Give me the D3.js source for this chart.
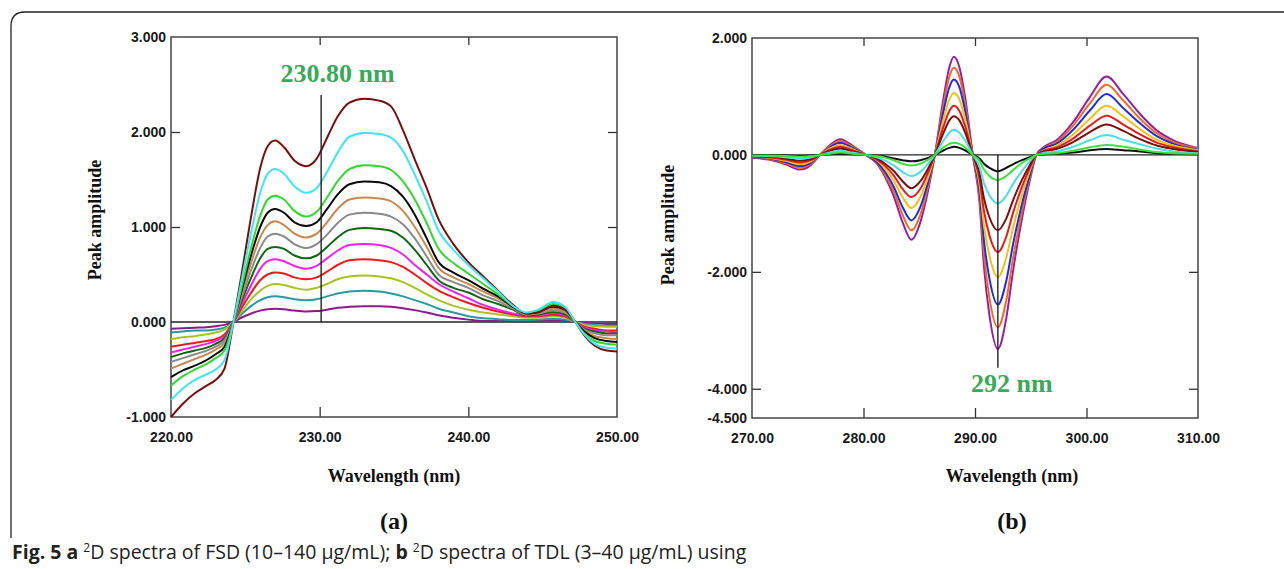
<!DOCTYPE html>
<html>
<head>
<meta charset="utf-8">
<script src="https://cdn.jsdelivr.net/npm/d3@7"></script>
<style>
  body { margin: 0; background: #fff; }
  .tick text { font-family: "Liberation Sans", Arial, sans-serif; font-weight: bold; font-size: 14px; fill: #1a1a1a; }
  .tick line { stroke: #333; stroke-width: 1.3; }
  .axis-title { font-family: "Liberation Serif", "Times New Roman", serif; font-weight: bold; font-size: 18px; fill: #111; }
  .panel-tag { font-family: "Liberation Serif", "Times New Roman", serif; font-weight: bold; font-size: 24px; fill: #111; }
  .marker-label { font-family: "Liberation Serif", "Times New Roman", serif; font-weight: bold; font-size: 26px; fill: #3aaa58; }
  .caption { font-family: "Open Sans", "Noto Sans", sans-serif; font-size: 19.5px; fill: #222; }
</style>
</head>
<body>
<svg id="chart" width="1284" height="569"></svg>
<script>
// ---- panel (a): 2D spectra of FSD ----
const wlA = [220, 220.8, 221.6, 222.4, 223.0, 223.6, 224.2, 224.8, 225.4, 226.0,
             226.5, 227.0, 227.6, 228.3, 229.1, 229.8, 230.5, 231.2, 232.0, 233.0,
             234.0, 234.8, 235.6, 236.4, 237.2, 238.0, 239.0, 240.0, 241.0, 242.0,
             243.0, 243.9, 244.7, 245.7, 246.5, 247.2, 247.8, 248.5, 249.3, 250.0];
const fsdMaroon = [-1.00, -0.86, -0.75, -0.67, -0.61, -0.49, 0.00, 0.55, 1.12, 1.62, 1.85, 1.91, 1.84, 1.70, 1.64, 1.72, 1.94, 2.16, 2.31, 2.35, 2.33, 2.27, 2.02, 1.71, 1.41, 1.08, 0.82, 0.63, 0.48, 0.33, 0.18, 0.09, 0.10, 0.17, 0.13, 0.00, -0.14, -0.25, -0.30, -0.31];
const fsdCyan = [-0.82, -0.70, -0.61, -0.55, -0.50, -0.40, 0.00, 0.48, 0.95, 1.36, 1.56, 1.61, 1.56, 1.43, 1.36, 1.41, 1.58, 1.78, 1.95, 1.99, 1.98, 1.94, 1.80, 1.55, 1.27, 0.96, 0.76, 0.60, 0.46, 0.32, 0.17, 0.10, 0.13, 0.21, 0.16, 0.00, -0.13, -0.23, -0.27, -0.28];
const fsdGreen = [-0.67, -0.57, -0.50, -0.44, -0.38, -0.30, 0.00, 0.40, 0.79, 1.12, 1.29, 1.33, 1.29, 1.17, 1.11, 1.16, 1.31, 1.48, 1.61, 1.65, 1.64, 1.60, 1.48, 1.29, 1.04, 0.77, 0.62, 0.51, 0.40, 0.29, 0.17, 0.09, 0.12, 0.19, 0.15, 0.00, -0.12, -0.20, -0.23, -0.24];
const fsdBlack = [-0.58, -0.51, -0.46, -0.40, -0.34, -0.26, 0.00, 0.36, 0.71, 1.00, 1.15, 1.19, 1.15, 1.05, 1.01, 1.05, 1.19, 1.34, 1.45, 1.48, 1.47, 1.43, 1.32, 1.13, 0.88, 0.63, 0.52, 0.44, 0.35, 0.27, 0.16, 0.09, 0.11, 0.16, 0.13, 0.00, -0.10, -0.17, -0.20, -0.21];
const fsdTan = [-0.49, -0.44, -0.39, -0.34, -0.29, -0.22, 0.00, 0.32, 0.63, 0.89, 1.02, 1.06, 1.02, 0.93, 0.89, 0.93, 1.05, 1.19, 1.29, 1.31, 1.30, 1.27, 1.17, 1.00, 0.79, 0.57, 0.47, 0.40, 0.32, 0.25, 0.16, 0.08, 0.10, 0.14, 0.11, 0.00, -0.09, -0.15, -0.17, -0.18];
const fsdGray = [-0.42, -0.38, -0.34, -0.30, -0.26, -0.19, 0.00, 0.28, 0.55, 0.78, 0.90, 0.93, 0.90, 0.82, 0.78, 0.82, 0.92, 1.04, 1.13, 1.15, 1.14, 1.11, 1.03, 0.88, 0.69, 0.50, 0.42, 0.36, 0.28, 0.22, 0.14, 0.08, 0.09, 0.12, 0.10, 0.00, -0.08, -0.12, -0.14, -0.14];
const fsdDarkGreen = [-0.37, -0.33, -0.30, -0.27, -0.23, -0.17, 0.00, 0.24, 0.47, 0.67, 0.77, 0.79, 0.77, 0.70, 0.67, 0.70, 0.79, 0.89, 0.97, 0.99, 0.98, 0.96, 0.89, 0.76, 0.60, 0.44, 0.36, 0.31, 0.24, 0.19, 0.13, 0.07, 0.08, 0.105, 0.08, 0.00, -0.07, -0.10, -0.12, -0.12];
const fsdMagenta = [-0.32, -0.29, -0.26, -0.23, -0.20, -0.15, 0.00, 0.20, 0.39, 0.56, 0.64, 0.66, 0.64, 0.59, 0.56, 0.59, 0.67, 0.75, 0.81, 0.82, 0.81, 0.78, 0.71, 0.60, 0.50, 0.40, 0.32, 0.25, 0.18, 0.13, 0.09, 0.07, 0.07, 0.095, 0.07, 0.00, -0.06, -0.09, -0.10, -0.11];
const fsdRed = [-0.26, -0.24, -0.22, -0.20, -0.18, -0.13, 0.00, 0.16, 0.31, 0.44, 0.50, 0.52, 0.51, 0.47, 0.45, 0.47, 0.53, 0.60, 0.65, 0.66, 0.65, 0.63, 0.58, 0.50, 0.41, 0.33, 0.26, 0.20, 0.15, 0.11, 0.08, 0.06, 0.06, 0.077, 0.06, 0.00, -0.05, -0.07, -0.09, -0.09];
const fsdYellowGreen = [-0.18, -0.16, -0.15, -0.13, -0.11, -0.08, 0.00, 0.12, 0.24, 0.33, 0.38, 0.40, 0.39, 0.36, 0.34, 0.36, 0.40, 0.45, 0.48, 0.49, 0.48, 0.46, 0.42, 0.36, 0.29, 0.23, 0.17, 0.13, 0.10, 0.08, 0.06, 0.045, 0.045, 0.06, 0.045, 0.00, -0.03, -0.045, -0.05, -0.05];
const fsdTeal = [-0.11, -0.10, -0.09, -0.09, -0.08, -0.06, 0.00, 0.09, 0.17, 0.23, 0.26, 0.27, 0.26, 0.24, 0.23, 0.24, 0.27, 0.30, 0.32, 0.33, 0.32, 0.30, 0.27, 0.23, 0.19, 0.14, 0.10, 0.06, 0.04, 0.03, 0.02, 0.02, 0.025, 0.035, 0.025, 0.00, -0.02, -0.03, -0.04, -0.04];
const fsdPurple = [-0.07, -0.065, -0.06, -0.055, -0.045, -0.03, 0.00, 0.05, 0.09, 0.12, 0.135, 0.14, 0.135, 0.12, 0.11, 0.115, 0.13, 0.15, 0.16, 0.165, 0.165, 0.16, 0.145, 0.125, 0.10, 0.07, 0.045, 0.025, 0.01, 0.01, 0.01, 0.01, 0.012, 0.018, 0.012, 0.00, -0.01, -0.015, -0.02, -0.02];

// ---- panel (b): 2D spectra of TDL ----
const wlB = [270, 271.5, 273, 274.3, 275.3, 276.1, 277, 277.9, 279, 280.2,
             281.2, 282, 282.7, 283.5, 284.3, 285.1, 285.8, 286.4, 287.2, 287.7,
             288.1, 288.6, 289.1, 289.8, 290.4, 290.8, 291.3, 292.05, 292.8, 293.4,
             294.2, 294.9, 295.5, 296.3, 297.3, 298.8, 300.3, 301.8, 303.3, 304.8,
             306.3, 307.8, 310];
const tdlPurple = [-0.05, -0.08, -0.16, -0.25, -0.17, 0, 0.17, 0.27, 0.16, 0, -0.15, -0.40, -0.70, -1.15, -1.45, -1.15, -0.60, 0, 1.00, 1.50, 1.68, 1.50, 1.00, 0, -0.80, -1.90, -2.75, -3.32, -2.80, -2.00, -1.10, -0.45, 0, 0.15, 0.25, 0.56, 0.99, 1.34, 1.04, 0.70, 0.42, 0.25, 0.12];
const tdlOrange = [-0.04, -0.07, -0.14, -0.22, -0.15, 0, 0.15, 0.24, 0.14, 0, -0.13, -0.36, -0.62, -1.02, -1.29, -1.02, -0.53, 0, 0.89, 1.34, 1.49, 1.34, 0.89, 0, -0.71, -1.69, -2.45, -2.95, -2.49, -1.78, -0.98, -0.40, 0, 0.13, 0.22, 0.50, 0.88, 1.20, 0.93, 0.62, 0.37, 0.22, 0.11];
const tdlBlue = [-0.04, -0.06, -0.12, -0.19, -0.13, 0, 0.13, 0.21, 0.12, 0, -0.12, -0.31, -0.54, -0.89, -1.12, -0.89, -0.46, 0, 0.77, 1.16, 1.29, 1.16, 0.77, 0, -0.62, -1.46, -2.12, -2.56, -2.16, -1.54, -0.85, -0.35, 0, 0.12, 0.19, 0.43, 0.76, 1.04, 0.80, 0.54, 0.32, 0.19, 0.09];
const tdlGold = [-0.03, -0.05, -0.10, -0.16, -0.11, 0, 0.11, 0.17, 0.10, 0, -0.09, -0.25, -0.44, -0.72, -0.91, -0.72, -0.38, 0, 0.63, 0.95, 1.06, 0.95, 0.63, 0, -0.50, -1.20, -1.73, -2.09, -1.76, -1.26, -0.69, -0.28, 0, 0.09, 0.16, 0.35, 0.62, 0.84, 0.66, 0.44, 0.26, 0.16, 0.08];
const tdlRed = [-0.03, -0.04, -0.08, -0.13, -0.09, 0, 0.09, 0.14, 0.08, 0, -0.08, -0.20, -0.35, -0.58, -0.72, -0.58, -0.30, 0, 0.50, 0.75, 0.84, 0.75, 0.50, 0, -0.40, -0.95, -1.38, -1.66, -1.40, -1.00, -0.55, -0.23, 0, 0.08, 0.13, 0.28, 0.50, 0.67, 0.52, 0.35, 0.21, 0.13, 0.06];
const tdlDarkRed = [-0.02, -0.03, -0.06, -0.10, -0.07, 0, 0.07, 0.11, 0.06, 0, -0.06, -0.16, -0.27, -0.45, -0.57, -0.45, -0.23, 0, 0.39, 0.59, 0.66, 0.59, 0.39, 0, -0.31, -0.74, -1.07, -1.29, -1.09, -0.78, -0.43, -0.18, 0, 0.06, 0.10, 0.22, 0.39, 0.52, 0.41, 0.27, 0.16, 0.10, 0.05];
const tdlCyan = [-0.01, -0.02, -0.04, -0.06, -0.04, 0, 0.04, 0.07, 0.04, 0, -0.04, -0.10, -0.18, -0.29, -0.36, -0.29, -0.15, 0, 0.25, 0.38, 0.43, 0.38, 0.25, 0, -0.20, -0.48, -0.69, -0.83, -0.70, -0.50, -0.28, -0.11, 0, 0.04, 0.06, 0.14, 0.25, 0.34, 0.26, 0.18, 0.11, 0.06, 0.03];
const tdlGreen = [-0.01, -0.01, -0.02, -0.03, -0.02, 0, 0.02, 0.04, 0.02, 0, -0.02, -0.05, -0.09, -0.15, -0.18, -0.15, -0.08, 0, 0.13, 0.19, 0.21, 0.19, 0.13, 0, -0.10, -0.25, -0.36, -0.43, -0.36, -0.26, -0.14, -0.06, 0, 0.02, 0.03, 0.07, 0.13, 0.17, 0.14, 0.09, 0.05, 0.03, 0.02];
const tdlBlack = [0, 0, -0.01, -0.02, -0.01, 0, 0.01, 0.02, 0.01, 0, -0.01, -0.03, -0.06, -0.09, -0.11, -0.09, -0.05, 0, 0.08, 0.12, 0.14, 0.12, 0.08, 0, -0.06, -0.15, -0.22, -0.28, -0.22, -0.16, -0.09, -0.04, 0, 0.01, 0.02, 0.04, 0.08, 0.10, 0.08, 0.06, 0.03, 0.02, 0.01];

// drawing order: first is underneath
const seriesA = [
  {color: '#8b1a8b', values: fsdPurple},
  {color: '#2a9a9e', values: fsdTeal},
  {color: '#a5c423', values: fsdYellowGreen},
  {color: '#f01818', values: fsdRed},
  {color: '#f020f0', values: fsdMagenta},
  {color: '#116611', values: fsdDarkGreen},
  {color: '#8a8a8a', values: fsdGray},
  {color: '#c48a50', values: fsdTan},
  {color: '#0a0a0a', values: fsdBlack},
  {color: '#30d930', values: fsdGreen},
  {color: '#7a0e0e', values: fsdMaroon},
  {color: '#3de6f0', values: fsdCyan}
];
const seriesB = [
  {color: '#9420a6', values: tdlPurple},
  {color: '#f26b1d', values: tdlOrange},
  {color: '#1a2ee0', values: tdlBlue},
  {color: '#f5c00f', values: tdlGold},
  {color: '#e51c1c', values: tdlRed},
  {color: '#7a1010', values: tdlDarkRed},
  {color: '#45e0e8', values: tdlCyan},
  {color: '#111111', values: tdlBlack},
  {color: '#3be23b', values: tdlGreen}
];

const svg = d3.select('#chart');

// plain hyphen for negatives, like the instrument software
const fmt3 = d => d3.format('.3f')(d).replace('−', '-');

// outer figure border (rounded top-left corner)
svg.append('path')
    .attr('d', 'M11,538 L11,26 Q11,12 25,12 L1284,12')
    .attr('fill', 'none')
    .attr('stroke', '#222')
    .attr('stroke-width', 1.3);

function drawPanel(cfg) {
  const x = d3.scaleLinear().domain(cfg.xDomain).range([cfg.left, cfg.left + cfg.width]);
  const y = d3.scaleLinear().domain(cfg.yDomain).range([cfg.top + cfg.height, cfg.top]);
  const g = svg.append('g');

  // axes with inward ticks
  const bottom = g.append('g')
      .attr('transform', `translate(0,${cfg.top + cfg.height})`)
      .call(d3.axisBottom(x).tickValues(cfg.xTicks).tickFormat(d3.format('.2f'))
        .tickSizeInner(-10).tickSizeOuter(0).tickPadding(15));
  bottom.selectAll('.tick line').filter(d => d === cfg.xDomain[0] || d === cfg.xDomain[1]).remove();

  g.append('g')
      .attr('transform', `translate(0,${cfg.top})`)
      .call(d3.axisTop(x).tickValues(cfg.innerX).tickFormat('').tickSizeInner(-8).tickSizeOuter(0));

  const left = g.append('g')
      .attr('transform', `translate(${cfg.left},0)`)
      .call(d3.axisLeft(y).tickValues(cfg.yTicks).tickFormat(fmt3)
        .tickSizeInner(-9).tickSizeOuter(0).tickPadding(5));
  left.selectAll('.tick line').filter(d => cfg.innerY.indexOf(d) < 0).remove();
  left.selectAll('.tick text').attr('dy', '0.35em');

  g.append('g')
      .attr('transform', `translate(${cfg.left + cfg.width},0)`)
      .call(d3.axisRight(y).tickValues(cfg.innerY).tickFormat('').tickSizeInner(-9).tickSizeOuter(0));

  g.selectAll('.domain').remove();

  // frame
  g.append('rect')
      .attr('x', cfg.left).attr('y', cfg.top)
      .attr('width', cfg.width).attr('height', cfg.height)
      .attr('fill', 'none').attr('stroke', '#444').attr('stroke-width', 1.5);

  // zero baseline
  g.append('line')
      .attr('x1', cfg.left).attr('x2', cfg.left + cfg.width)
      .attr('y1', y(0)).attr('y2', y(0))
      .attr('stroke', '#222').attr('stroke-width', 1.4);

  // spectra
  const line = d3.line()
      .x((d, i) => x(cfg.wl[i]))
      .y(d => y(d))
      .curve(d3.curveMonotoneX);

  g.append('g').selectAll('path')
      .data(cfg.series)
    .join('path')
      .attr('d', d => line(d.values))
      .attr('fill', 'none')
      .attr('stroke', d => d.color)
      .attr('stroke-width', 2)
      .attr('stroke-linejoin', 'round');

  // marker line + label
  g.append('line')
      .attr('x1', x(cfg.marker.x)).attr('x2', x(cfg.marker.x))
      .attr('y1', y(cfg.marker.y0)).attr('y2', y(cfg.marker.y1))
      .attr('stroke', '#222').attr('stroke-width', 1.4);

  g.append('text')
      .attr('class', 'marker-label')
      .attr('x', x(cfg.marker.labelX))
      .attr('y', y(cfg.marker.labelY))
      .attr('text-anchor', 'middle')
      .text(cfg.marker.label);

  // axis titles
  g.append('text')
      .attr('class', 'axis-title')
      .attr('transform', `translate(${cfg.yTitleX},${cfg.yTitleY}) rotate(-90)`)
      .attr('text-anchor', 'middle')
      .text('Peak amplitude');

  g.append('text')
      .attr('class', 'axis-title')
      .attr('x', cfg.xTitleX).attr('y', 482)
      .attr('text-anchor', 'middle')
      .text('Wavelength (nm)');

  g.append('text')
      .attr('class', 'panel-tag')
      .attr('x', cfg.xTitleX).attr('y', 529)
      .attr('text-anchor', 'middle')
      .text(cfg.tag);
}

drawPanel({
  left: 171, top: 37, width: 446, height: 380,
  xDomain: [220, 250], yDomain: [-1, 3],
  xTicks: [220, 230, 240, 250], innerX: [230, 240],
  yTicks: [3, 2, 1, 0, -1], innerY: [2, 1],
  wl: wlA, series: seriesA,
  marker: {x: 230.1, y0: 0, y1: 2.39, labelX: 231.2, labelY: 2.53, label: '230.80 nm'},
  yTitleX: 101, yTitleY: 220, xTitleX: 394, tag: '(a)'
});

drawPanel({
  left: 752, top: 38, width: 446, height: 380,
  xDomain: [270, 310], yDomain: [-4.5, 2],
  xTicks: [270, 280, 290, 300, 310], innerX: [280, 290, 300],
  yTicks: [2, 0, -2, -4, -4.5], innerY: [-2, -4],
  wl: wlB, series: seriesB,
  marker: {x: 292.05, y0: 0, y1: -3.64, labelX: 293.3, labelY: -4.05, label: '292 nm'},
  yTitleX: 674, yTitleY: 225, xTitleX: 1012, tag: '(b)'
});

// caption
const cap = svg.append('text').attr('class', 'caption').attr('x', 12).attr('y', 559);
cap.append('tspan').attr('font-weight', 'bold').text('Fig. 5 ');
cap.append('tspan').attr('font-weight', 'bold').text(' a ');
cap.append('tspan').attr('font-size', '12px').attr('dy', -7).text('2');
cap.append('tspan').attr('dy', 7).text('D spectra of FSD (10–140 μg/mL); ');
cap.append('tspan').attr('font-weight', 'bold').text('b ');
cap.append('tspan').attr('font-size', '12px').attr('dy', -7).text('2');
cap.append('tspan').attr('dy', 7).text('D spectra of TDL (3–40 μg/mL) using');
</script>
</body>
</html>
